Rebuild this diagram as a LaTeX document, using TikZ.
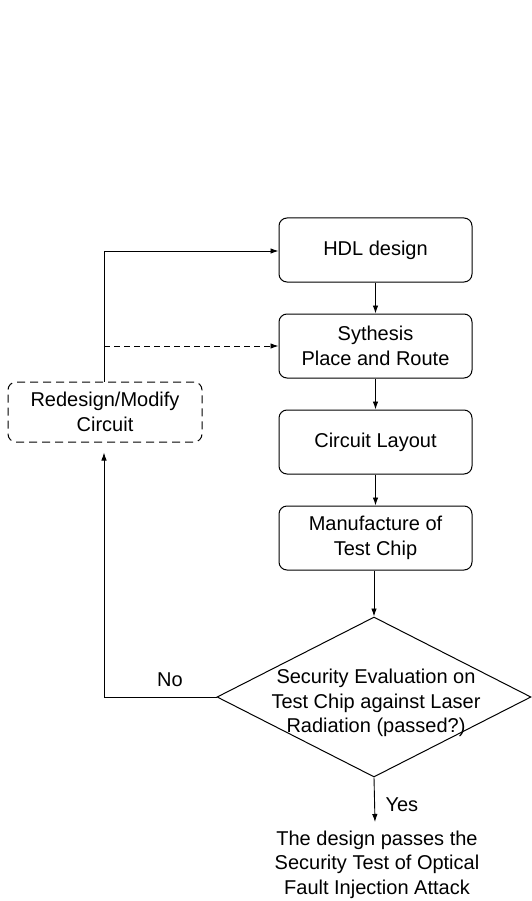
\documentclass[tikz,border=0pt]{standalone}
\usepackage{fontspec}
\setmainfont{Liberation Sans}
\usetikzlibrary{arrows.meta,shapes.geometric}
\begin{document}
\begin{tikzpicture}[x=1pt,y=-1pt,
  every node/.style={font=\fontsize{20}{24.5}\selectfont},
  flowbox/.style={draw,rounded corners=8pt,line width=1pt,minimum width=193pt,minimum height=64pt,align=center,inner sep=0pt},
  redobox/.style={draw,rounded corners=8pt,line width=1pt,dash pattern=on 8pt off 5pt,minimum width=194pt,minimum height=60pt,align=center,inner sep=0pt},
  link/.style={line width=0.9pt,-{Latex[length=8pt,width=5.5pt]}}]
\useasboundingbox (0,0) rectangle (531,901);

% main design flow
\node[flowbox] (hdl)  at (375.5,250) {HDL design};
\node[flowbox] (syn)  at (375.5,346) {Sythesis\\Place and Route};
\node[flowbox] (lay)  at (375.5,442) {Circuit Layout};
\node[flowbox] (man)  at (375.5,538) {Manufacture of\\Test Chip};

% decision
\node[draw,diamond,line width=1pt,minimum width=314pt,minimum height=160pt,inner sep=0pt] (eval) at (374,697) {};
\node[align=center] (evaltxt) at (376,703) {Security Evaluation on\\Test Chip against Laser\\Radiation (passed?)};

% redesign loop
\node[redobox] (redo) at (105,412) {Redesign/Modify\\Circuit};

% final outcome
\node[align=center,anchor=north] (pass) at (377,827) {The design passes the\\Security Test of Optical\\Fault Injection Attack};
\coordinate (passtop) at (375,822);

\draw[link] (hdl) -- (syn);
\draw[link] (syn) -- (lay);
\draw[link] (lay) -- (man);
\draw[link] (man.south -| eval.north) -- (eval.north);
\draw[link] (eval.south) -- (passtop);
\node[anchor=west] (yes) at (382,805) {Yes};

\coordinate (nocorner) at (104,697);
\draw[link,shorten >=10pt] (eval.west) -- (nocorner) -- (redo.south -| nocorner);
\node (no) at (170,680) {No};

\coordinate (topcorner) at (104,251);
\draw[link] (redo.north -| topcorner) -- (topcorner) -- (hdl.west |- topcorner);
\coordinate (dashstart) at (104,346);
\draw[link,dash pattern=on 6pt off 4pt] (dashstart) -- (syn.west);
\end{tikzpicture}
\end{document}
